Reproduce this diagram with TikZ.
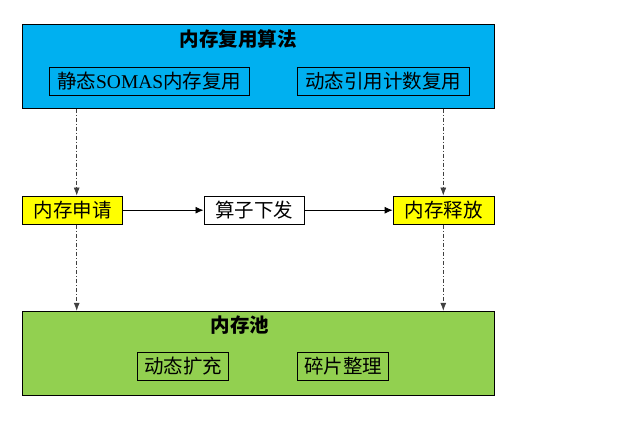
\documentclass[tikz,border=0pt]{standalone}
\usepackage{fontspec}
\setmainfont{Liberation Serif}
\newfontfamily\cjk{Noto Sans CJK SC}
\usetikzlibrary{arrows.meta}
\definecolor{topblue}{HTML}{00B0F0}
\definecolor{poolgreen}{HTML}{92D050}
\definecolor{hiyellow}{HTML}{FFFF00}
\tikzset{
  panel/.style={draw=black, line width=1pt, minimum width=472pt, minimum height=84pt, inner sep=0pt},
  subbox/.style={draw=black, line width=0.8pt, minimum height=28pt, inner sep=0pt, font=\fontsize{19.5}{21}\selectfont\cjk},
  flowbox/.style={draw=black, line width=0.9pt, minimum height=28.3pt, minimum width=100.5pt, inner sep=0pt, font=\fontsize{19.5}{21}\selectfont\cjk},
  ttl/.style={inner sep=0pt, font=\fontsize{19.5}{21}\selectfont\cjk\bfseries},
  flow/.style={-{Latex[length=8pt,width=7pt]}, line width=0.8pt},
  dd/.style={-{Latex[length=8pt,width=6pt]}, line width=0.7pt, draw=black!75, dash pattern=on 4pt off 2pt on 1pt off 2pt}
}
\begin{document}
\begin{tikzpicture}[x=1pt,y=-1pt]
\useasboundingbox (0,0) rectangle (621,427);
% top panel
\node[panel, fill=topblue] (top) at (258.3,66.25) {};
\node[ttl] (toptitle) at (238,39) {内存复用算法};
\node[subbox, minimum width=200.5pt] (somas) at (149.25,81.5) {{\cjk 静态}{\fontspec{Liberation Serif}SOMAS}{\cjk 内存复用}};
\node[subbox, minimum width=172pt] (refc) at (383,81.5) {动态引用计数复用};
% middle row
\node[flowbox, fill=hiyellow] (req) at (72.5,210.2) {内存申请};
\node[flowbox, fill=white] (op) at (254.2,210.2) {算子下发};
\node[flowbox, fill=hiyellow, minimum width=101.3pt] (rel) at (443.7,210.2) {内存释放};
% bottom panel
\node[panel, fill=poolgreen] (pool) at (258.3,353.3) {};
\node[ttl] (pooltitle) at (240,325) {内存池};
\node[subbox, minimum width=91pt] (expand) at (183.2,366.5) {动态扩充};
\node[subbox, minimum width=91.4pt] (defrag) at (343,366.5) {碎片整理};
% connectors
\draw[flow] (req) -- (op);
\draw[flow] (op) -- (rel);
\coordinate (lx) at (76.7,0);
\coordinate (rx) at (443.3,0);
\draw[dd] (top.south -| lx) -- (req.north -| lx);
\draw[dd] (top.south -| rx) -- (rel.north -| rx);
\draw[dd] (req.south -| lx) -- (pool.north -| lx);
\draw[dd] (rel.south -| rx) -- (pool.north -| rx);
\end{tikzpicture}
\end{document}
